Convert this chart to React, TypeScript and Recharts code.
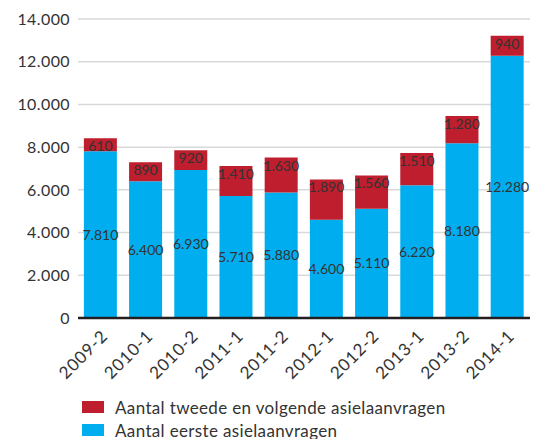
import React from 'react';
import { BarChart, Bar, XAxis, YAxis, CartesianGrid, LabelList, Legend } from 'recharts';

const categories = ['2009-2', '2010-1', '2010-2', '2011-1', '2011-2', '2012-1', '2012-2', '2013-1', '2013-2', '2014-1'];
const eerste = [7810, 6400, 6930, 5710, 5880, 4600, 5110, 6220, 8180, 12280];
const tweede = [610, 890, 920, 1410, 1630, 1890, 1560, 1510, 1280, 940];
const yTicks = [0, 2000, 4000, 6000, 8000, 10000, 12000, 14000];

const BLUE = '#00aeef';
const RED = '#be1e2d';
const TEXT = '#333333';
const FONT = 'Lato, "Open Sans", sans-serif';

const data = categories.map((c, i) => ({ name: c, eerste: eerste[i], tweede: tweede[i] }));

const fmt = (v: number) => v.toLocaleString('nl-NL');

const XTick = (props: any) => {
  const { x, y, payload } = props;
  return (
    <g transform={`translate(${x + 4},${y + 9})`}>
      <text x={0} y={0} dy={6} textAnchor="end" transform="rotate(-45)" fill={TEXT} fontSize={17} letterSpacing={0.8} fontFamily={FONT}>
        {payload.value}
      </text>
    </g>
  );
};

const legendItems = [
  { c: RED, t: 'Aantal tweede en volgende asielaanvragen', top: 6.5 },
  { c: BLUE, t: 'Aantal eerste asielaanvragen', top: 29.5 },
];

const LegendContent = () => (
  <div style={{ position: 'relative', height: 50, overflow: 'hidden', fontFamily: FONT, fontSize: 17, letterSpacing: 0.35, color: TEXT }}>
    {legendItems.map((it) => (
      <div key={it.t} style={{ position: 'absolute', left: 82, top: it.top, display: 'flex', alignItems: 'center', height: 23, whiteSpace: 'nowrap' }}>
        <span style={{ display: 'inline-block', width: 22, height: 12, background: it.c, marginRight: 11 }} />
        <span>{it.t}</span>
      </div>
    ))}
  </div>
);

export default function App() {
  return (
    <div style={{ position: 'absolute', left: 0, top: 0, background: '#fff' }}>
      <BarChart width={538} height={439} data={data} margin={{ top: 19, right: 8, bottom: 0, left: 0 }} barCategoryGap="13%">
        <CartesianGrid vertical={false} stroke="#d9d9d9" strokeWidth={1.5} />
        <YAxis
          width={78}
          domain={[0, 14000]}
          ticks={yTicks}
          axisLine={false}
          tickLine={false}
          tickSize={0}
          tickMargin={8}
          tickFormatter={fmt}
          tick={{ fill: TEXT, fontSize: 16, fontFamily: FONT, letterSpacing: 0.4 }}
          interval={0}
        />
        <XAxis
          dataKey="name"
          height={71}
          interval={0}
          axisLine={{ stroke: '#231f20', strokeWidth: 2.5 }}
          tickLine={false}
          tickSize={0}
          tick={<XTick />}
          tickMargin={6}
        />
        <Legend verticalAlign="bottom" align="left" content={<LegendContent />} wrapperStyle={{ height: 50, width: 538 }} />
        <Bar dataKey="eerste" stackId="a" fill={BLUE} isAnimationActive={false}>
          <LabelList dataKey="eerste" position="center" formatter={(v: any) => fmt(Number(v))} fill={TEXT} fontSize={14} fontFamily={FONT} />
        </Bar>
        <Bar dataKey="tweede" stackId="a" fill={RED} isAnimationActive={false}>
          <LabelList dataKey="tweede" position="insideTop" offset={3} formatter={(v: any) => fmt(Number(v))} fill={TEXT} fontSize={14} fontFamily={FONT} />
        </Bar>
      </BarChart>
    </div>
  );
}
